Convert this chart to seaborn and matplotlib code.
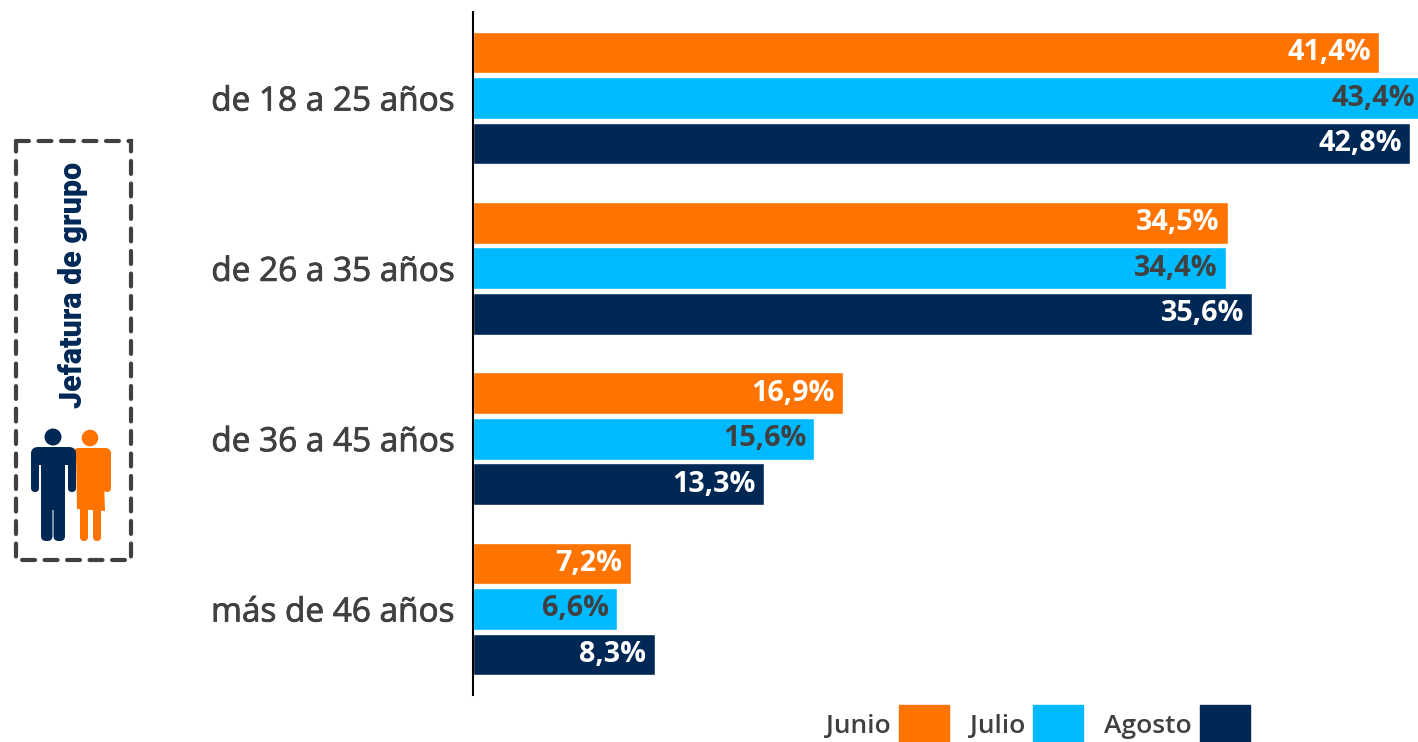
import matplotlib
matplotlib.use("Agg")
import matplotlib.patheffects as pe
import matplotlib.pyplot as plt
from matplotlib.patches import Circle, FancyBboxPatch, Patch, Polygon, Rectangle
import pandas as pd
import seaborn as sns

edades = ["de 18 a 25 años", "de 26 a 35 años", "de 36 a 45 años", "más de 46 años"]
meses = ["Junio", "Julio", "Agosto"]
junio = [41.4, 34.5, 16.9, 7.2]
julio = [43.4, 34.4, 15.6, 6.6]
agosto = [42.8, 35.6, 13.3, 8.3]

NARANJA = "#FF7300"
CELESTE = "#00BAFF"
AZUL = "#002855"
GRIS = "#404040"

sns.set_theme(style="white")
plt.rcParams["font.family"] = ["Open Sans", "DejaVu Sans"]

df = pd.DataFrame({
    "edad": edades * 3,
    "mes": [m for m in meses for _ in edades],
    "valor": junio + julio + agosto,
})

fig = plt.figure(figsize=(14.18, 7.42), dpi=100)
W, H = 1418, 742

# el eje sigue un poco fuera de la figura, la barra de 43,4 queda cortada
ax = fig.add_axes([473 / W, 1 - 695 / H, 950 / W, 683 / H])
sns.barplot(data=df, y="edad", x="valor", hue="mes", palette=[NARANJA, CELESTE, AZUL],
            width=0.8, gap=0.08, saturation=1, legend=False, ax=ax)
ax.set_xlim(0, 43.4)
ax.set_ylim(3.505, -0.505)
ax.set_xlabel("")
ax.set_ylabel("")
ax.set_xticks([])
ax.tick_params(axis="y", length=0, pad=13, labelsize=24, labelcolor=GRIS)
for t in ax.get_yticklabels():
    t.set_path_effects([pe.withStroke(linewidth=0.6, foreground=GRIS)])
for s in ["top", "right", "bottom"]:
    ax.spines[s].set_visible(False)
ax.spines["left"].set_color("black")
ax.spines["left"].set_linewidth(1.5)

colores = ["white", GRIS, "white"]
for cont, col in zip(ax.containers, colores):
    etiquetas = [f"{b.get_width():.1f}%".replace(".", ",") for b in cont]
    anns = ax.bar_label(cont, labels=etiquetas, padding=-6, color=col,
                        fontsize=20.7, fontweight="bold")
    for a in anns:
        a.set_ha("right")

# leyenda, los cuadros a la derecha del texto
handles = [Patch(color=c) for c in [NARANJA, CELESTE, AZUL]]
fig.legend(handles, meses, ncol=3, markerfirst=False, frameon=False,
           loc="lower right", bbox_to_anchor=(1249.5 / W, -2 / H), borderaxespad=0, borderpad=0,
           handlelength=1.89, handleheight=1.89, handletextpad=0.3,
           columnspacing=0.8, labelcolor=GRIS,
           prop={"family": "Open Sans", "size": 19, "weight": 600})

# recuadro con el icono, en pixeles
deco = fig.add_axes([0, 0, 1, 1], zorder=3)
deco.set_xlim(0, W)
deco.set_ylim(H, 0)
deco.axis("off")
deco.add_patch(Rectangle((15.5, 140.5), 115, 419, fill=False, edgecolor=GRIS, lw=3,
                         linestyle=(0, (3.1, 2.3)), capstyle="round"))
deco.text(73, 285, "Jefatura de grupo", rotation=90, ha="center", va="center",
          color=AZUL, fontsize=22, fontweight=900, family="Roboto")


def barra(x0, y0, x1, y1, color, r=3.5):
    deco.add_patch(FancyBboxPatch((x0 + r, y0 + r), x1 - x0 - 2 * r, y1 - y0 - 2 * r,
                                  boxstyle=f"round,pad={r},rounding_size={r}",
                                  facecolor=color, edgecolor="none"))


# mujer
deco.add_patch(Circle((90, 438), 8.3, color=NARANJA, lw=0))
barra(73, 448, 111, 462, NARANJA, 6)
barra(103, 450, 111, 492, NARANJA, 4)
deco.add_patch(Polygon([(76, 450), (103, 450), (105, 511), (77, 509)], color=NARANJA, lw=0))
barra(80, 505, 88, 541, NARANJA, 4)
barra(93, 505, 101, 541, NARANJA, 4)
# hombre
deco.add_patch(Circle((53, 437), 8.5, color=AZUL, lw=0))
barra(31, 447, 76, 465, AZUL, 7)
barra(31, 450, 39, 492, AZUL, 4)
barra(68, 450, 76, 492, AZUL, 4)
deco.add_patch(Rectangle((41, 450), 24, 60, color=AZUL, lw=0))
barra(41, 490, 52.5, 541, AZUL, 5)
barra(53.5, 490, 65, 541, AZUL, 5)

fig.savefig("out.png", dpi=100)
